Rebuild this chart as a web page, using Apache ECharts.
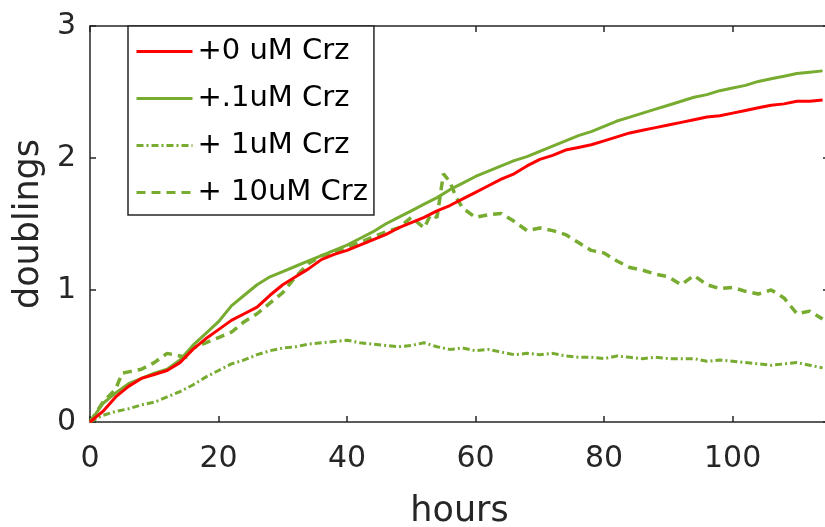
<!DOCTYPE html>
<html>
<head>
<meta charset="utf-8">
<script src="https://cdn.jsdelivr.net/npm/echarts@6/dist/echarts.min.js"></script>
<style>html,body{margin:0;padding:0;background:#fff;}#c{width:825px;height:527px;}</style>
</head>
<body>
<div id="c"></div>
<script>
// hours sampled every 2 h
const hours = [0,2,4,6,8,10,12,14,16,18,20,22,24,26,28,30,32,34,36,38,40,42,44,46,48,50,52,54,56,58,60,62,64,66,68,70,72,74,76,78,80,82,84,86,88,90,92,94,96,98,100,102,104,106,108,110,112,114];
const crz0 = [0.00,0.08,0.19,0.27,0.33,0.36,0.39,0.45,0.55,0.63,0.70,0.77,0.82,0.87,0.96,1.04,1.10,1.16,1.23,1.27,1.30,1.34,1.38,1.42,1.47,1.51,1.55,1.60,1.64,1.69,1.74,1.79,1.84,1.88,1.94,1.99,2.02,2.06,2.08,2.10,2.13,2.16,2.19,2.21,2.23,2.25,2.27,2.29,2.31,2.32,2.34,2.36,2.38,2.40,2.41,2.43,2.43,2.44];
const crz01 = [0.00,0.14,0.22,0.29,0.33,0.37,0.40,0.47,0.58,0.67,0.76,0.88,0.96,1.04,1.10,1.14,1.18,1.22,1.26,1.30,1.34,1.39,1.44,1.50,1.55,1.60,1.65,1.70,1.76,1.81,1.86,1.90,1.94,1.98,2.01,2.05,2.09,2.13,2.17,2.20,2.24,2.28,2.31,2.34,2.37,2.40,2.43,2.46,2.48,2.51,2.53,2.55,2.58,2.60,2.62,2.64,2.65,2.66];
const crz1 = [0.00,0.05,0.08,0.10,0.13,0.15,0.19,0.23,0.28,0.34,0.39,0.44,0.47,0.51,0.54,0.56,0.57,0.59,0.60,0.61,0.62,0.60,0.59,0.58,0.57,0.58,0.60,0.57,0.55,0.56,0.54,0.55,0.53,0.51,0.52,0.51,0.52,0.50,0.49,0.49,0.48,0.50,0.49,0.48,0.49,0.48,0.48,0.48,0.46,0.47,0.46,0.45,0.44,0.43,0.44,0.45,0.43,0.41];
// 10 uM series has its own sampling (jump near 55 h)
const hours10 = [0,2,4,5,6,8,10,12,14,15,16,18,20,22,24,26,28,30,32,34,36,38,40,42,44,46,48,50,52,53,54,55,56,57,58,60,62,64,66,68,70,72,74,76,78,80,82,84,86,88,90,92,94,96,98,100,102,104,106,108,110,112,114];
const crz10 = [0.00,0.15,0.25,0.37,0.38,0.40,0.45,0.52,0.50,0.49,0.56,0.60,0.64,0.68,0.76,0.82,0.90,0.98,1.10,1.20,1.26,1.28,1.32,1.36,1.40,1.44,1.47,1.55,1.47,1.57,1.55,1.88,1.82,1.70,1.62,1.55,1.57,1.58,1.52,1.45,1.47,1.45,1.42,1.36,1.30,1.28,1.22,1.17,1.15,1.12,1.10,1.04,1.11,1.04,1.01,1.02,0.99,0.97,1.00,0.94,0.82,0.84,0.78];
const seriesNames = ['+0 uM Crz','+.1uM Crz','+ 1uM Crz','+ 10uM Crz'];
const xTicks = [0,20,40,60,80,100];
const yTicks = [0,1,2,3];

const zip = (xs, ys) => xs.map((x,i)=>[x, ys[i]]);
const FONT = 'DejaVu Sans';
const AX = '#262626';
const GREEN = '#77AC30';

const chart = echarts.init(document.getElementById('c'), null, {renderer:'canvas'});
const axisCommon = {
  axisLine:{show:true, onZero:false, lineStyle:{color:AX, width:1.5}},
  axisTick:{show:true, inside:true, length:6, lineStyle:{color:AX, width:1.5}},
  splitLine:{show:false}
};
chart.setOption({
  animation:false,
  backgroundColor:'#fff',
  grid:{left:90, top:26, bottom:105, right:-4, containLabel:false, outerBoundsMode:'none'},
  xAxis:[
    Object.assign({type:'value', min:0, max:115, interval:20, position:'bottom',
      name:'hours', nameLocation:'middle', nameGap:72,
      nameTextStyle:{fontFamily:FONT, fontSize:35, color:AX},
      axisLabel:{fontFamily:FONT, fontSize:30, color:AX, margin:22, showMaxLabel:false,
        formatter:v=> xTicks.includes(v)? String(v):''}}, axisCommon),
    Object.assign({type:'value', min:0, max:115, interval:20, position:'top',
      axisLabel:{show:false}}, axisCommon)
  ],
  yAxis:[
    Object.assign({type:'value', min:0, max:3, interval:1, position:'left',
      name:'doublings', nameLocation:'middle', nameGap:43,
      nameTextStyle:{fontFamily:FONT, fontSize:35, color:AX},
      axisLabel:{fontFamily:FONT, fontSize:30, color:AX, margin:14,
        formatter:v=> yTicks.includes(v)? String(v):''}}, axisCommon),
    Object.assign({type:'value', min:0, max:3, interval:1, position:'right',
      axisLabel:{show:false}}, axisCommon)
  ],
  legend:{
    orient:'vertical', left:128, top:26, z:10,
    data:seriesNames,
    itemWidth:56, itemHeight:14, itemGap:18,
    padding:[11,6,8,7],
    itemStyle:{opacity:0},
    lineStyle:{width:3},
    backgroundColor:'#fff', borderColor:AX, borderWidth:1.5,
    textStyle:{fontFamily:FONT, fontSize:29, color:'#000', lineHeight:26}
  },
  series:[
    {name:seriesNames[0], type:'line', data:zip(hours,crz0), showSymbol:false, symbol:'none',
      lineStyle:{color:'#FF0000', width:3}, itemStyle:{color:'#FF0000'}, z:4},
    {name:seriesNames[1], type:'line', data:zip(hours,crz01), showSymbol:false, symbol:'none',
      lineStyle:{color:GREEN, width:3}, itemStyle:{color:GREEN}, z:3},
    {name:seriesNames[2], type:'line', data:zip(hours,crz1), showSymbol:false, symbol:'none',
      lineStyle:{color:GREEN, width:3, type:[7,3,2,3]}, itemStyle:{color:GREEN}, z:2},
    {name:seriesNames[3], type:'line', data:zip(hours10,crz10), showSymbol:false, symbol:'none',
      lineStyle:{color:GREEN, width:3.5, type:[9,6]}, itemStyle:{color:GREEN}, z:2}
  ]
});
</script>
</body>
</html>
